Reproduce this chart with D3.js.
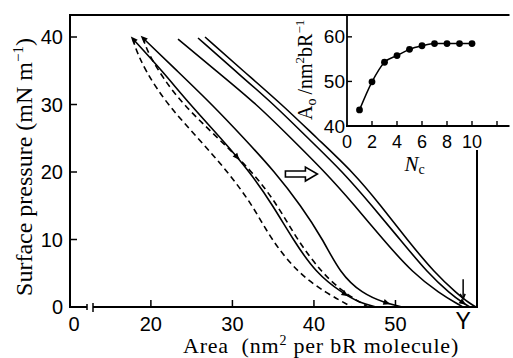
<!DOCTYPE html>
<html><head><meta charset="utf-8">
<script src="https://cdn.jsdelivr.net/npm/d3@7"></script>
<style>body{margin:0;background:#fff}svg{display:block}</style>
</head><body><svg id="c" width="513" height="358"></svg>
<script>
// ---------- data ----------
const areaTicks = [20, 30, 40, 50];
const areaZeroLabel = "0";
const pressureTicks = [0, 10, 20, 30, 40];
// [area nm^2 per bR, surface pressure mN/m]
const dashed1 = [[17.81,39.7],[18.05,38.5],[19.3,35],[22.0,30],[25.8,25],[29.46,20],[32.52,15],[34.74,10],[38.04,5],[41.6,2],[44.67,0]];
const dashed2 = [[19.03,39.85],[19.65,37.6],[21.49,33.9],[23.94,30],[28.23,25],[32.52,20],[35.59,15],[37.92,10],[40.99,5],[43.81,2],[46.63,0]];
const solid1 = [[17.81,39.7],[21.36,35],[24.8,30],[28.6,25],[32.16,20],[34.98,15],[37.43,10],[40.25,5],[43.56,2],[45.65,0.6],[47.61,0]];
const solid2 = [[19.03,39.85],[23.2,35],[27.5,30],[31.42,25],[35.22,20],[38.41,15],[41.11,10],[43.2,5],[45.89,2],[48.71,0.6],[50.8,0]];
const solid3 = [[23.33,39.7],[27.99,35],[33.02,30],[37.19,25],[41.36,20],[45.04,15],[48.47,10],[52.15,5],[55.46,2],[57.55,0.5],[58.28,0]];
const solid4 = [[25.78,39.85],[30.32,35],[35.1,30],[39.27,25],[43.56,20],[47.12,15],[50.55,10],[53.99,5],[56.69,2],[58.4,0.5],[59.14,0]];
const solid5 = [[26.64,40],[31.3,35],[36.08,30],[40.37,25],[44.79,20],[48.22,15],[51.41,10],[54.85,5],[57.55,2],[59.14,0.5],[59.88,0]];
const limitLabel = "Y";
const limitArea = 58.3;
// inset
const ncValues = [1,2,3,4,5,6,7,8,9,10];
const a0Values = [43.6,49.9,54.3,55.8,57.2,58.0,58.5,58.5,58.5,58.5];
const insetXTicks = [2,4,6,8,10,12];
const insetXLabels = [0,2,4,6,8,10];
const insetYTicks = [40,50,60];

// ---------- layout ----------
const svg = d3.select("#c");
const x = d3.scaleLinear().domain([0, 2.1, 12.9, 60]).range([70, 87, 93, 477]);
const y = d3.scaleLinear().domain([0, 43.26]).range([307, 15]);
const xi = d3.scaleLinear().domain([0, 13]).range([347, 509.5]);
const yi = d3.scaleLinear().domain([40, 64.9]).range([126, 15]);
const sans = "'Liberation Sans', Arial, sans-serif";
const serif = "'Liberation Serif', 'Times New Roman', serif";

const g = svg.append("g");
const fw = 2;
g.append("line").attr("x1", x(0)).attr("x2", x(0)).attr("y1", y(43.26)).attr("y2", y(0)).attr("stroke","#000").attr("stroke-width",fw);
g.append("line").attr("x1", x(0)-1).attr("x2", 347).attr("y1", y(43.26)).attr("y2", y(43.26)).attr("stroke","#000").attr("stroke-width",fw);
g.append("line").attr("x1", x(60)).attr("x2", x(60)).attr("y1", y(43.26)).attr("y2", y(0)+1).attr("stroke","#000").attr("stroke-width",fw);
// bottom axis with break
g.append("line").attr("x1", x(0)-1).attr("x2", x(2.1)).attr("y1", y(0)).attr("y2", y(0)).attr("stroke","#000").attr("stroke-width",fw);
g.append("line").attr("x1", x(12.9)).attr("x2", x(60)+1).attr("y1", y(0)).attr("y2", y(0)).attr("stroke","#000").attr("stroke-width",fw);
g.append("line").attr("x1", x(2.1)).attr("x2", x(2.1)).attr("y1", y(0)-3).attr("y2", y(0)+3).attr("stroke","#000").attr("stroke-width",1.5);
g.append("line").attr("x1", x(12.9)).attr("x2", x(12.9)).attr("y1", y(0)-4).attr("y2", y(0)+5).attr("stroke","#000").attr("stroke-width",1.5);

// ticks
g.selectAll(".xt").data(areaTicks).join("line").attr("x1",d=>x(d)).attr("x2",d=>x(d)).attr("y1",y(0)).attr("y2",y(0)-7).attr("stroke","#000").attr("stroke-width",1.5);
g.selectAll(".yt").data(pressureTicks.filter(d=>d>0)).join("line").attr("x1",x(0)).attr("x2",x(0)+7).attr("y1",d=>y(d)).attr("y2",d=>y(d)).attr("stroke","#000").attr("stroke-width",1.5);
// tick labels
g.selectAll(".xl").data(areaTicks).join("text").attr("x",d=>x(d)).attr("y",y(0)+24).attr("text-anchor","middle").attr("font-family",sans).attr("font-size",20).text(d=>d);
g.append("text").attr("x",x(0)+4).attr("y",y(0)+24).attr("text-anchor","middle").attr("font-family",sans).attr("font-size",20).text(areaZeroLabel);
g.selectAll(".yl").data(pressureTicks).join("text").attr("x",x(0)-7).attr("y",d=>y(d)+7).attr("text-anchor","end").attr("font-family",sans).attr("font-size",20).text(d=>d);
g.append("text").attr("x",x(limitArea)).attr("y",y(0)+22).attr("text-anchor","middle").attr("font-family",sans).attr("font-size",23).text(limitLabel);

// axis titles
const yt = g.append("text").attr("transform","translate(32,167) rotate(-90)").attr("text-anchor","middle").attr("font-family",serif).attr("font-size",24);
yt.append("tspan").text("Surface pressure (mN m");
yt.append("tspan").attr("font-size",15).attr("dy",-9).text("\u22121");
yt.append("tspan").attr("dy",9).text(")");
const xt = g.append("text").attr("x",321).attr("y",353).attr("text-anchor","middle").attr("font-family",serif).attr("font-size",22).attr("letter-spacing",0.8);
xt.append("tspan").text("Area\u00a0 (nm");
xt.append("tspan").attr("font-size",14).attr("dy",-8).text("2");
xt.append("tspan").attr("dy",8).text(" per bR molecule)");

// curves
const line = d3.line().x(d=>x(d[0])).y(d=>y(d[1])).curve(d3.curveBasis);
const solids = [solid1, solid2, solid3, solid4, solid5];
const dashes = [dashed1, dashed2];
const cg = svg.append("g").attr("fill","none").attr("stroke","#000").attr("stroke-width",1.6);
const solidPaths = cg.selectAll(".s").data(solids).join("path").attr("d",line);
cg.selectAll(".d").data(dashes).join("path").attr("d",line).attr("stroke-dasharray","6,4");

// small arrowheads along curves
function arrowAt(node, frac, reverse){
  const L = node.getTotalLength();
  const p = node.getPointAtLength(L*frac);
  const q = node.getPointAtLength(Math.max(0,Math.min(L, L*frac + (reverse?-3:3))));
  const ang = Math.atan2(q.y-p.y, q.x-p.x)*180/Math.PI;
  svg.append("path").attr("d","M4,0 L-3,-3 L-3,3 Z").attr("fill","#000")
    .attr("transform",`translate(${q.x},${q.y}) rotate(${ang})`);
}
const sp = solidPaths.nodes();
arrowAt(sp[0], 0.01, true);
arrowAt(sp[1], 0.01, true);
arrowAt(sp[0], 0.42, false);
arrowAt(sp[0], 0.9, false);
arrowAt(sp[1], 0.95, false);
arrowAt(sp[3], 0.97, false);

// hollow arrow annotation
const ax = x(36.5), ay = y(19.7);
svg.append("path").attr("d",`M${ax},${ay-3} h20 v-4 l12,7 l-12,7 v-4 h-20 Z`).attr("fill","#fff").attr("stroke","#000").attr("stroke-width",1.6);
// down arrow near limit
const dx0 = x(limitArea);
svg.append("line").attr("x1",dx0).attr("x2",dx0).attr("y1",y(4.1)).attr("y2",y(1.2)).attr("stroke","#000").attr("stroke-width",1.5);
svg.append("path").attr("d",`M${dx0-3},${y(1.2)-5} L${dx0},${y(1.2)} L${dx0+2},${y(1.2)-5}`).attr("fill","none").attr("stroke","#000").attr("stroke-width",1.5);

// ---------- inset ----------
const ig = svg.append("g");
ig.append("rect").attr("x",xi(0)).attr("y",0).attr("width",513-xi(0)).attr("height",150).attr("fill","#fff");
ig.append("line").attr("x1",xi(0)).attr("x2",xi(0)).attr("y1",yi(64.9)).attr("y2",yi(40)).attr("stroke","#000").attr("stroke-width",1.8);
ig.append("line").attr("x1",xi(0)).attr("x2",xi(13)).attr("y1",yi(64.9)).attr("y2",yi(64.9)).attr("stroke","#000").attr("stroke-width",1.8);
ig.append("line").attr("x1",xi(0)-1).attr("x2",xi(13)).attr("y1",yi(40)).attr("y2",yi(40)).attr("stroke","#000").attr("stroke-width",1.8);
ig.selectAll(".ixt").data(insetXTicks).join("line").attr("x1",d=>xi(d)).attr("x2",d=>xi(d)).attr("y1",yi(40)).attr("y2",yi(40)-5).attr("stroke","#000").attr("stroke-width",1.4);
ig.selectAll(".iyt").data(insetYTicks.filter(d=>d>40)).join("line").attr("x1",xi(0)).attr("x2",xi(0)+5).attr("y1",d=>yi(d)).attr("y2",d=>yi(d)).attr("stroke","#000").attr("stroke-width",1.4);
ig.selectAll(".ixl").data(insetXLabels).join("text").attr("x",d=>xi(d)).attr("y",yi(40)+22).attr("text-anchor","middle").attr("font-family",sans).attr("font-size",18).text(d=>d);
ig.selectAll(".iyl").data(insetYTicks).join("text").attr("x",xi(0)-2).attr("y",d=>yi(d)+6.5).attr("text-anchor","end").attr("font-family",sans).attr("font-size",19).text(d=>d);
const ncl = ig.append("text").attr("x",xi(4.6)).attr("y",171).attr("font-family",serif).attr("font-size",21);
ncl.append("tspan").attr("font-style","italic").text("N");
ncl.append("tspan").attr("font-size",14).attr("dy",3).text("c");
const iyt = ig.append("text").attr("transform",`translate(312,${yi(52.6)}) rotate(-90)`).attr("text-anchor","middle").attr("font-family",serif).attr("font-size",20);
iyt.append("tspan").text("A");
iyt.append("tspan").attr("font-size",14).attr("dy",4).text("o");
iyt.append("tspan").attr("dy",-4).text("\u2009/nm");
iyt.append("tspan").attr("font-size",13).attr("dy",-8).text("2");
iyt.append("tspan").attr("dy",8).text("bR");
iyt.append("tspan").attr("font-size",13).attr("dy",-8).text("\u22121");
const iline = d3.line().x((d,i)=>xi(ncValues[i])).y(d=>yi(d)).curve(d3.curveMonotoneX);
ig.append("path").attr("d",iline(a0Values)).attr("fill","none").attr("stroke","#000").attr("stroke-width",1.5);
ig.selectAll(".dot").data(a0Values).join("circle").attr("cx",(d,i)=>xi(ncValues[i])).attr("cy",d=>yi(d)).attr("r",3.4).attr("fill","#000");
</script></body></html>
